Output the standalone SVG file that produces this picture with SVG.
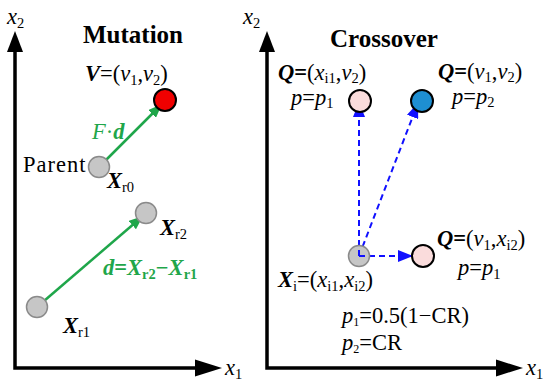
<svg xmlns="http://www.w3.org/2000/svg" width="550" height="392" viewBox="0 0 550 392">
<defs>
<marker id="ga" markerWidth="14" markerHeight="11" refX="14" refY="5.5" orient="auto" markerUnits="userSpaceOnUse"><path d="M0,0 L14,5.5 L0,11 Z" fill="#1fa64a"/></marker>
<marker id="ba" markerWidth="15" markerHeight="12" refX="15" refY="6" orient="auto" markerUnits="userSpaceOnUse"><path d="M0,0 L15,6 L0,12 Z" fill="#1010ff"/></marker>
<style>
text{font-family:"Liberation Serif","Times New Roman",serif;font-size:22.5px;fill:#000}
.t{font-weight:bold;font-size:25px}
.i{font-style:italic}
.b{font-weight:bold;font-style:italic}
.s{font-size:14.5px}
.g{fill:#1fa64a}
.axis{fill:none;stroke:#000;stroke-width:3.5}
.gray{fill:#c6c6c6;stroke:#8a8a8a;stroke-width:1.5}
.pink{fill:#fadcdc;stroke:#000;stroke-width:2}
.gl{stroke:#1fa64a;stroke-width:2.5;fill:none}
.bl{stroke:#1010ff;stroke-width:2;stroke-dasharray:6,4;fill:none}
</style>
</defs>
<g id="axes">
<path class="axis" d="M15,50 V368 H198"/>
<path d="M15,31 L7,52 L23,52 Z"/>
<path d="M222,368 L195,359.5 L195,376.5 Z"/>
<path class="axis" d="M267,50 V368 H499"/>
<path d="M267,31 L259,52 L275,52 Z"/>
<path d="M523,368 L496,359.5 L496,376.5 Z"/>
<text x="7" y="24"><tspan class="i">x</tspan><tspan class="s" dy="4">2</tspan></text>
<text x="243" y="24"><tspan class="i">x</tspan><tspan class="s" dy="4">2</tspan></text>
<text x="225" y="375"><tspan class="i">x</tspan><tspan class="s" dy="4">1</tspan></text>
<text x="526" y="375"><tspan class="i">x</tspan><tspan class="s" dy="4">1</tspan></text>
</g>
<g id="titles">
<text class="t" x="83" y="43">Mutation</text>
<text class="t" x="330" y="47">Crossover</text>
</g>
<g id="connectors">
<line class="gl" x1="99" y1="167" x2="162" y2="104" marker-end="url(#ga)"/>
<line class="gl" x1="37" y1="307" x2="143" y2="216" marker-end="url(#ga)"/>
<line class="bl" x1="359" y1="256" x2="359" y2="102" marker-end="url(#ba)"/>
<line class="bl" x1="359" y1="256" x2="418" y2="103" marker-end="url(#ba)"/>
<line class="bl" x1="359" y1="256" x2="413" y2="256" marker-end="url(#ba)"/>
</g>
<g id="V">
<circle cx="165" cy="100" r="11" fill="#f00000" stroke="#000" stroke-width="2"/>
<text x="85" y="81"><tspan class="b">V</tspan>=(<tspan class="i">v</tspan><tspan class="s" dy="4">1</tspan><tspan dy="-4">,</tspan><tspan class="i">v</tspan><tspan class="s" dy="4">2</tspan><tspan dy="-4">)</tspan></text>
<text class="g" x="92" y="139" font-size="20"><tspan class="i">F</tspan>·<tspan class="b">d</tspan></text>
</g>
<g id="parent">
<circle class="gray" cx="99" cy="167" r="10.5"/>
<text x="23" y="172" font-size="23" letter-spacing="1">Parent</text>
<text x="107" y="188"><tspan class="b">X</tspan><tspan class="s" dy="4">r0</tspan></text>
</g>
<g id="xr2">
<circle class="gray" cx="146" cy="213" r="10.5"/>
<text x="160" y="235"><tspan class="b">X</tspan><tspan class="s" dy="4">r2</tspan></text>
<text class="g" x="103" y="275"><tspan class="b">d</tspan><tspan font-weight="bold">=</tspan><tspan class="b">X</tspan><tspan class="s" font-weight="bold" dy="4">r2</tspan><tspan dy="-4" font-weight="bold">−</tspan><tspan class="b">X</tspan><tspan class="s" font-weight="bold" dy="4">r1</tspan></text>
</g>
<g id="xr1">
<circle class="gray" cx="37" cy="307" r="10.5"/>
<text x="63" y="333"><tspan class="b">X</tspan><tspan class="s" dy="4">r1</tspan></text>
</g>
<g id="q1">
<circle class="pink" cx="360" cy="101" r="11"/>
<text x="278" y="80"><tspan class="b">Q</tspan><tspan font-weight="bold">=</tspan>(<tspan class="i">x</tspan><tspan class="s" dy="3">i1</tspan><tspan dy="-3">,</tspan><tspan class="i">v</tspan><tspan class="s" dy="3">2</tspan><tspan dy="-3">)</tspan></text>
<text x="291" y="105"><tspan class="i">p</tspan>=<tspan class="i">p</tspan><tspan class="s" dy="3">1</tspan></text>
</g>
<g id="q2">
<circle cx="422" cy="101" r="11" fill="#1e8fd2" stroke="#000" stroke-width="2"/>
<text x="438" y="79"><tspan class="b">Q</tspan><tspan font-weight="bold">=</tspan>(<tspan class="i">v</tspan><tspan class="s" dy="3">1</tspan><tspan dy="-3">,</tspan><tspan class="i">v</tspan><tspan class="s" dy="3">2</tspan><tspan dy="-3">)</tspan></text>
<text x="452" y="104"><tspan class="i">p</tspan>=<tspan class="i">p</tspan><tspan class="s" dy="3">2</tspan></text>
</g>
<g id="q3">
<circle class="pink" cx="423" cy="256" r="11"/>
<text x="437" y="246"><tspan class="b">Q</tspan><tspan font-weight="bold">=</tspan>(<tspan class="i">v</tspan><tspan class="s" dy="4">1</tspan><tspan dy="-4">,</tspan><tspan class="i">x</tspan><tspan class="s" dy="4">i2</tspan><tspan dy="-4">)</tspan></text>
<text x="458" y="275"><tspan class="i">p</tspan>=<tspan class="i">p</tspan><tspan class="s" dy="4">1</tspan></text>
</g>
<g id="xi">
<circle class="gray" cx="359" cy="256" r="10.5"/>
<line class="bl" x1="359" y1="256" x2="359" y2="246"/>
<line class="bl" x1="359" y1="256" x2="369" y2="256"/>
<text x="278" y="287"><tspan class="b">X</tspan><tspan class="s" dy="4">i</tspan><tspan dy="-4">=(</tspan><tspan class="i">x</tspan><tspan class="s" dy="4">i1</tspan><tspan dy="-4">,</tspan><tspan class="i">x</tspan><tspan class="s" dy="4">i2</tspan><tspan dy="-4">)</tspan></text>
</g>
<g id="formulas">
<text x="342" y="323" font-size="16.5"><tspan class="i">p</tspan><tspan font-size="12" dy="3">1</tspan><tspan dy="-3">=0.5(1−CR)</tspan></text>
<text x="342" y="350" font-size="16.5"><tspan class="i">p</tspan><tspan font-size="12" dy="3">2</tspan><tspan dy="-3">=CR</tspan></text>
</g>
</svg>
